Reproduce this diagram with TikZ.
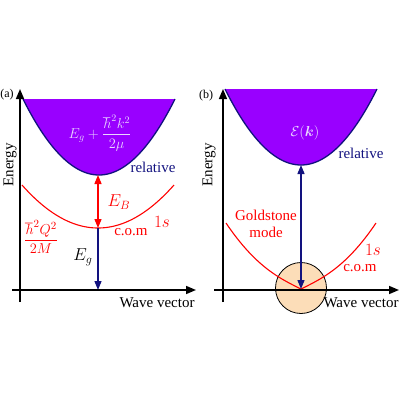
\documentclass[tikz,border=0pt]{standalone}
\usepackage{amsmath,amssymb,bm}
\usepackage{fontspec}
\setmainfont{Liberation Serif}
\usetikzlibrary{arrows.meta}
\definecolor{purp}{HTML}{9900FF}
\definecolor{navyb}{HTML}{12127F}
\definecolor{peach}{HTML}{FCDDB8}
\definecolor{lav}{HTML}{EAD6FF}
\tikzset{
  axisline/.style={line width=1.5pt, black, -{Triangle[length=10pt,width=8pt]}},
  bandedge/.style={line width=1.3pt, navyb},
  redcurve/.style={line width=1.1pt, red},
  navyarrow/.style={line width=1.3pt, navyb},
  txt/.style={font=\fontsize{15}{17}\selectfont, inner sep=0pt},
  mathtxt/.style={font=\fontsize{17}{19}\selectfont, inner sep=0pt},
}
\begin{document}
\begin{tikzpicture}[x=1pt,y=-1pt]
\useasboundingbox (0,0) rectangle (400,400);
% ---------- panel (a) ----------
\fill[purp] plot[domain=-76:76, samples=77] ({99+\x},{175-(\x*\x)/76}) -- cycle;
\draw[bandedge] plot[domain=-76:76, samples=77] ({99+\x},{175-(\x*\x)/76});
\draw[redcurve] plot[domain=-76:76, samples=77] ({98+\x},{228-43*(\x/76)*(\x/76)});
\coordinate (aV) at (98,175);
\coordinate (aR) at (98,228);
\coordinate (aX) at (98,290);
\draw[red, line width=1.3pt, {Triangle[length=9pt,width=7pt]}-{Triangle[length=9pt,width=7pt]}] (aR) -- (aV);
\draw[navyarrow, -{Triangle[length=9pt,width=7pt]}] (aR) -- (aX);
\coordinate (ayb) at (20,302);
\coordinate (ayt) at (20,89);
\coordinate (axl) at (12,290);
\coordinate (axr) at (196,290);
\draw[axisline] (ayb) -- (ayt);
\draw[axisline] (axl) -- (axr);
\node[txt, font=\fontsize{12}{14}\selectfont] (alab) at (7,95) {(a)};
\node[txt, rotate=90] (aen) at (10,165) {Energy};
\node[inner sep=0pt, text=lav, font=\fontsize{14.5}{16}\selectfont] (aeq) at (100,133) {$E_g+\dfrac{\hbar^2k^2}{2\mu}$};
\node[txt, text=navyb] (arel) at (153,167) {relative};
\node[mathtxt, text=red, font=\fontsize{18}{20}\selectfont] (aEB) at (119,202) {$E_B$};
\node[mathtxt, text=red] (a1s) at (162,222) {$1s$};
\node[txt, text=red] (acom) at (131,232) {c.o.m};
\node[inner sep=0pt, text=red, font=\fontsize{15}{17}\selectfont] (aQ) at (41,237) {$\dfrac{\hbar^2Q^2}{2M}$};
\node[mathtxt, font=\fontsize{18}{20}\selectfont] (aEg) at (83,257) {$E_g$};
\node[txt] (awv) at (157,303) {Wave vector};
% ---------- panel (b) ----------
\node[circle, draw=black, line width=0.8pt, fill=peach, minimum size=51pt, inner sep=0pt] (gs) at (301,288) {};
\fill[purp] plot[domain=-76:76, samples=77] ({301+\x},{165-(\x*\x)/76}) -- cycle;
\draw[bandedge] plot[domain=-76:76, samples=77] ({301+\x},{165-(\x*\x)/76});
\draw[redcurve] plot[domain=-75:75, samples=151] ({301+\x},{289-sqrt(0.2435*\x*\x+0.9439*(\x/10)^4)});
\coordinate (bV) at (301,165);
\coordinate (bX) at (301,289);
\draw[navyarrow, {Triangle[length=9pt,width=7pt]}-{Triangle[length=9pt,width=7pt]}] (bX) -- (bV);
\coordinate (byb) at (223,302);
\coordinate (byt) at (223,89);
\coordinate (bxl) at (214,290);
\coordinate (bxr) at (399,290);
\draw[axisline] (byb) -- (byt);
\draw[axisline] (bxl) -- (bxr);
\node[txt, font=\fontsize{12}{14}\selectfont] (blab) at (206,96) {(b)};
\node[txt, rotate=90] (ben) at (209,165) {Energy};
\node[inner sep=0pt, text=lav, font=\fontsize{15}{17}\selectfont] (beq) at (305,133) {$\mathcal{E}(\bm{k})$};
\node[txt, text=navyb] (brel) at (361,153) {relative};
\node[txt, text=red, align=center] (bgold) at (266,224) {Goldstone\\mode};
\node[mathtxt, text=red] (b1s) at (373,250) {$1s$};
\node[txt, text=red] (bcom) at (360,268) {c.o.m};
\node[txt] (bwv) at (361,303) {Wave vector};
\end{tikzpicture}
\end{document}
